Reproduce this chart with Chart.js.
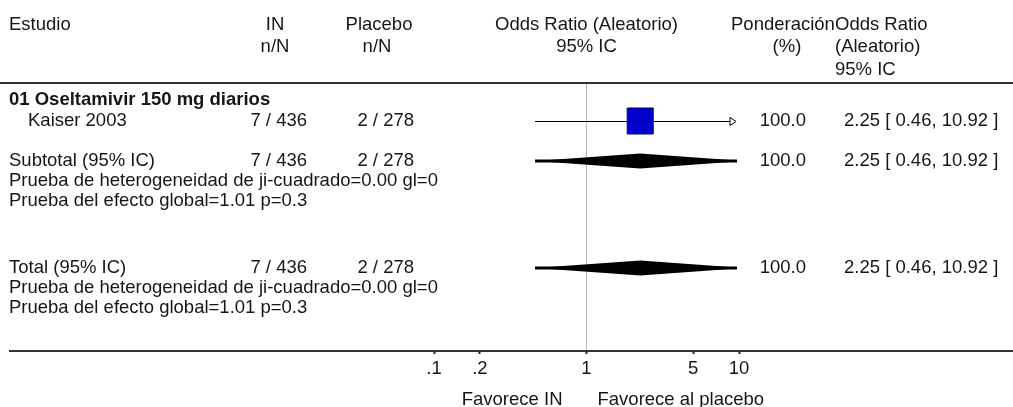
<!DOCTYPE html>
<html>
<head>
<meta charset="utf-8">
<script src="https://cdn.jsdelivr.net/npm/chart.js@4.4.1/dist/chart.umd.min.js"></script>
<style>
  html, body { margin: 0; padding: 0; background: #fff; }
</style>
</head>
<body>
<canvas id="forest" width="1013" height="407"></canvas>
<script>
// Study data (odds ratios, random effects)
const groupTitle = '01 Oseltamivir 150 mg diarios';
const studies = ['Kaiser 2003'];
const inEvents = [7];
const inTotals = [436];
const placeboEvents = [2];
const placeboTotals = [278];
const oddsRatios = [2.25];
const ciLow = [0.46];
const ciHigh = [10.92];
const weights = [100.0];

// Pooled rows: subtotal of the group, then overall total
const pooledLabels = ['Subtotal (95% IC)', 'Total (95% IC)'];
const pooledInEvents = [7, 7];
const pooledInTotals = [436, 436];
const pooledPlaceboEvents = [2, 2];
const pooledPlaceboTotals = [278, 278];
const pooledOR = [2.25, 2.25];
const pooledLow = [0.46, 0.46];
const pooledHigh = [10.92, 10.92];
const pooledWeights = [100.0, 100.0];
const heterogeneityChi2 = [0.00, 0.00];
const heterogeneityDf = [0, 0];
const effectZ = [1.01, 1.01];
const effectP = [0.3, 0.3];

const tickValues = [0.1, 0.2, 1, 5, 10];

// Row layout on the y scale (20px per row, 0 = header rule)
const headerRows = [-2.9, -1.8, -0.65];
const groupRow = 0.85;
const studyRows = [1.9];
const pooledRows = [3.9, 9.25];

const FAMILY = '"Liberation Sans", Arial, sans-serif';
const SIZE = 18.5;
const FONT = SIZE + 'px ' + FAMILY;
const BOLD = 'bold ' + FONT;
const INK = '#161616';

// text columns
const COL_STUDY = 9;
const COL_INDENT = 28;
const COL_IN_HEAD = 275;
const COL_IN = 307;
const COL_PL_HEAD = 379;
const COL_PL = 414;
const COL_W_HEAD = 731;
const COL_W = 806;
const COL_OR = 835;
const COL_OR_VAL = 844;

const nN = (n, N) => n + ' / ' + N;
const fmt2 = v => v.toFixed(2);
const orText = (or, lo, hi) => fmt2(or) + ' [ ' + fmt2(lo) + ', ' + fmt2(hi) + ' ]';

function put(ctx, s, x, y, align, font) {
  ctx.font = font || FONT;
  ctx.textAlign = align || 'left';
  ctx.textBaseline = 'middle';
  ctx.fillStyle = INK;
  ctx.fillText(s, x, y);
}

// horizontal CI whisker, with an open arrow when it runs past the axis
function whisker(ctx, xs, lo, hi, y) {
  const left = xs.getPixelForValue(Math.max(lo, xs.min));
  const tip = xs.right - 3;
  const clipped = hi > xs.max;
  const right = clipped ? tip - 6 : xs.getPixelForValue(hi);
  ctx.strokeStyle = '#000';
  ctx.lineWidth = 1;
  ctx.beginPath();
  ctx.moveTo(left, y + 0.5);
  ctx.lineTo(right, y + 0.5);
  ctx.stroke();
  if (clipped) {
    ctx.beginPath();
    ctx.moveTo(right, y - 3.5);
    ctx.lineTo(tip, y + 0.5);
    ctx.lineTo(right, y + 4.5);
    ctx.closePath();
    ctx.stroke();
  }
}

// pooled estimate diamond
function diamond(ctx, xs, or, lo, hi, y, half) {
  const l = xs.getPixelForValue(lo);
  const c = xs.getPixelForValue(or);
  const r = xs.getPixelForValue(hi);
  const stop = xs.right - 2;
  ctx.save();
  ctx.beginPath();
  ctx.rect(0, 0, stop, ctx.canvas.height);
  ctx.clip();
  ctx.fillStyle = '#000';
  ctx.beginPath();
  ctx.moveTo(l, y);
  ctx.lineTo(c, y - half);
  ctx.lineTo(r, y);
  ctx.lineTo(c, y + half);
  ctx.closePath();
  ctx.fill();
  ctx.fillRect(l, y - 1.5, Math.min(r, stop) - l, 3);
  ctx.restore();
}

const forestPlugin = {
  id: 'forest',
  beforeDatasetsDraw(chart) {
    const { ctx, scales: { x, y } } = chart;
    pooledRows.forEach((row, i) => {
      diamond(ctx, x, pooledOR[i], pooledLow[i], pooledHigh[i], y.getPixelForValue(row), 7.5);
    });
  },
  afterDatasetsDraw(chart) {
    const { ctx, scales: { x, y } } = chart;
    studyRows.forEach((row, i) => {
      whisker(ctx, x, ciLow[i], ciHigh[i], Math.round(y.getPixelForValue(row)));
    });
  },
  afterDraw(chart) {
    const { ctx, chartArea, scales: { x, y } } = chart;
    const W = chart.width;
    const x1 = x.getPixelForValue(1);

    // rules
    ctx.fillStyle = '#333';
    ctx.fillRect(0, chartArea.top - 1, W, 2);
    ctx.fillRect(COL_STUDY, chartArea.bottom, W - COL_STUDY, 2);

    // header
    const h = headerRows.map(r => y.getPixelForValue(r));
    put(ctx, 'Estudio', COL_STUDY, h[0]);
    put(ctx, 'IN', COL_IN_HEAD, h[0], 'center');
    put(ctx, 'n/N', COL_IN_HEAD, h[1], 'center');
    put(ctx, 'Placebo', COL_PL_HEAD, h[0], 'center');
    put(ctx, 'n/N', COL_PL_HEAD - 2, h[1], 'center');
    put(ctx, 'Odds Ratio (Aleatorio)', x1, h[0], 'center');
    put(ctx, '95% IC', x1, h[1], 'center');
    put(ctx, 'Ponderación', COL_W_HEAD, h[0]);
    put(ctx, '(%)', COL_W - 19, h[1], 'center');
    put(ctx, 'Odds Ratio', COL_OR, h[0]);
    put(ctx, '(Aleatorio)', COL_OR, h[1]);
    put(ctx, '95% IC', COL_OR, h[2]);

    // group and studies
    put(ctx, groupTitle, COL_STUDY, y.getPixelForValue(groupRow), 'left', BOLD);
    studyRows.forEach((row, i) => {
      const py = y.getPixelForValue(row);
      put(ctx, studies[i], COL_INDENT, py);
      put(ctx, nN(inEvents[i], inTotals[i]), COL_IN, py, 'right');
      put(ctx, nN(placeboEvents[i], placeboTotals[i]), COL_PL, py, 'right');
      put(ctx, weights[i].toFixed(1), COL_W, py, 'right');
      put(ctx, orText(oddsRatios[i], ciLow[i], ciHigh[i]), COL_OR_VAL, py);
    });

    // pooled rows with their tests
    pooledRows.forEach((row, i) => {
      const py = y.getPixelForValue(row);
      put(ctx, pooledLabels[i], COL_STUDY, py);
      put(ctx, nN(pooledInEvents[i], pooledInTotals[i]), COL_IN, py, 'right');
      put(ctx, nN(pooledPlaceboEvents[i], pooledPlaceboTotals[i]), COL_PL, py, 'right');
      put(ctx, pooledWeights[i].toFixed(1), COL_W, py, 'right');
      put(ctx, orText(pooledOR[i], pooledLow[i], pooledHigh[i]), COL_OR_VAL, py);
      put(ctx, 'Prueba de heterogeneidad de ji-cuadrado=' + heterogeneityChi2[i].toFixed(2) +
        ' gl=' + heterogeneityDf[i], COL_STUDY, y.getPixelForValue(row + 1));
      put(ctx, 'Prueba del efecto global=' + effectZ[i].toFixed(2) + ' p=' + effectP[i],
        COL_STUDY, y.getPixelForValue(row + 2));
    });

    // direction labels under the axis
    const fy = chartArea.bottom + 50;
    put(ctx, 'Favorece IN', x1 - 24, fy, 'right');
    put(ctx, 'Favorece al placebo', x1 + 11, fy, 'left');
  }
};

new Chart(document.getElementById('forest'), {
  type: 'scatter',
  data: {
    datasets: [{
      label: 'Estudios',
      data: studyRows.map((row, i) => ({ x: oddsRatios[i], y: row })),
      pointStyle: 'rect',
      pointRadius: 18.4,
      pointHoverRadius: 18.4,
      backgroundColor: '#0000cc',
      borderColor: '#00007a',
      borderWidth: 1,
      clip: false
    }]
  },
  options: {
    responsive: false,
    devicePixelRatio: 1,
    animation: false,
    layout: { padding: { left: 434, right: 274, top: 83, bottom: 27 } },
    plugins: { legend: { display: false }, tooltip: { enabled: false } },
    scales: {
      x: {
        type: 'logarithmic',
        position: 'bottom',
        min: 0.1,
        max: 10,
        afterBuildTicks: s => { s.ticks = tickValues.map(v => ({ value: v })); },
        afterFit: s => { s.height = 30; },
        border: { display: false },
        grid: {
          color: c => (c.tick && c.tick.value === 1 ? '#b8b8b8' : 'rgba(0,0,0,0)'),
          lineWidth: 1,
          tickLength: 4,
          tickColor: '#222',
          tickWidth: 2
        },
        ticks: {
          autoSkip: false,
          maxRotation: 0,
          padding: 4,
          color: INK,
          font: { family: FAMILY, size: SIZE },
          callback: v => (v < 1 ? String(v).slice(1) : String(v))
        }
      },
      y: {
        type: 'linear',
        min: 0,
        max: 13.35,
        reverse: true,
        display: false
      }
    }
  },
  plugins: [forestPlugin]
});
</script>
</body>
</html>
